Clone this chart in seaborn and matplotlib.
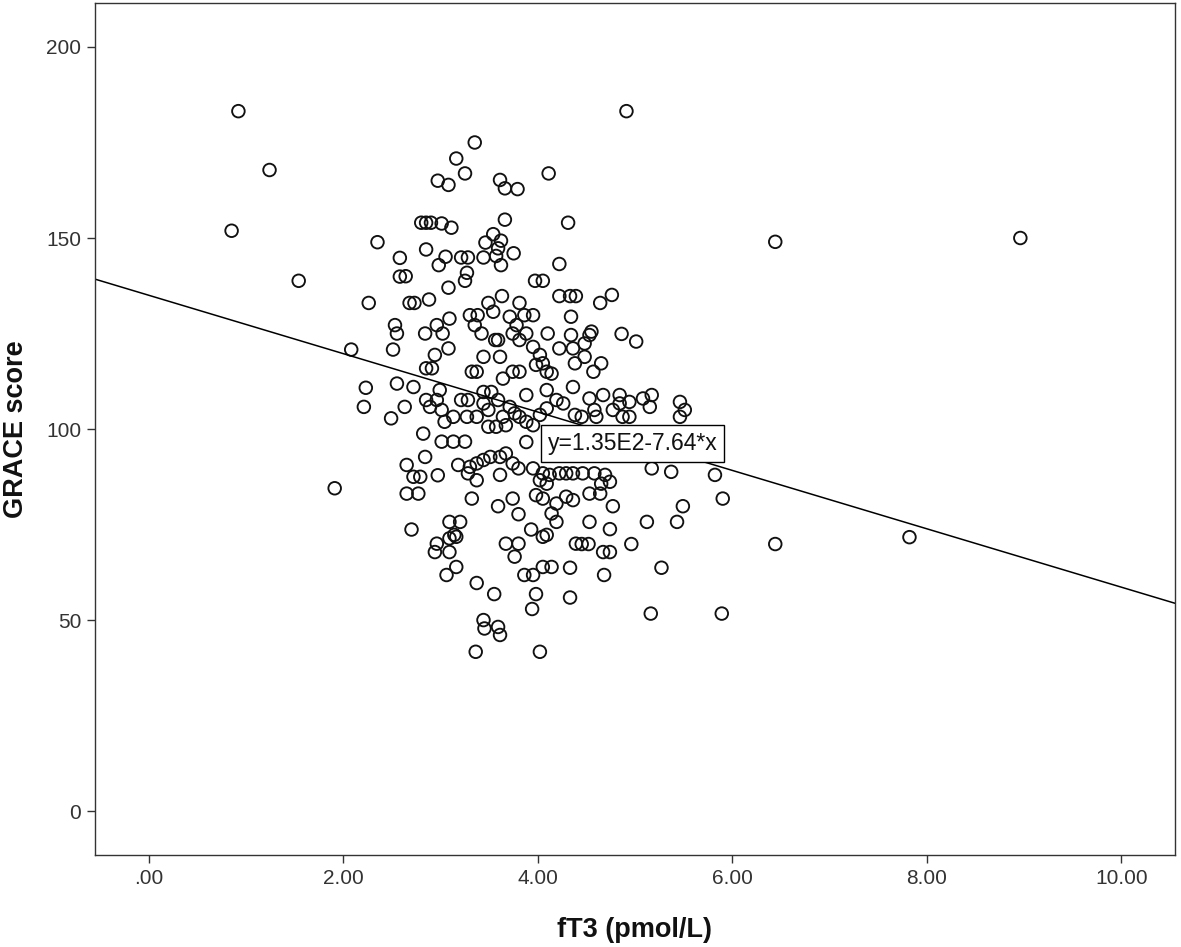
import numpy as np
import pandas as pd
import matplotlib
matplotlib.use("Agg")
import matplotlib.pyplot as plt
import seaborn as sns

# fT3 (pmol/L) values
ft3 = [
    1.24, 0.85, 2.35, 2.58, 2.58, 1.54, 2.26,
    3.35, 3.16, 3.25, 2.97, 3.08, 4.11, 3.61, 3.66, 3.79, 3.66, 4.31,
    2.80, 2.85, 2.90, 3.01, 3.11, 3.54, 3.46, 3.62, 3.59, 3.75, 2.85,
    3.05, 3.21, 3.28, 3.44, 3.57, 2.98, 3.62, 4.22, 3.27, 3.25, 2.64,
    3.97, 4.05, 3.08, 2.88, 2.68, 2.73, 3.63, 4.22, 4.33, 4.39, 3.81, 3.49,
    4.64, 4.76,
    2.53, 2.55, 2.08, 2.51, 2.55, 2.23, 2.21, 2.49, 1.91,
    2.84, 2.96, 3.02, 3.09, 3.08, 2.94, 2.85, 2.91, 3.30, 3.38, 3.54,
    3.35, 3.42, 3.56, 3.59, 3.44, 3.61, 3.32, 3.37, 3.71, 3.78, 3.74,
    3.86, 3.95, 3.81, 3.88, 4.10, 3.95, 4.02, 4.05, 4.22, 4.34, 4.34,
    4.36, 4.38, 4.09, 4.14, 3.74, 3.81, 3.98, 3.64, 2.72, 2.99, 3.21,
    3.28, 2.85, 2.96, 2.89, 3.01, 2.63, 3.13, 3.27, 3.37, 3.04, 3.44,
    3.52, 3.59, 3.44, 3.49, 3.71, 3.76, 3.81, 3.88, 3.95, 3.64, 3.67,
    3.57, 3.49, 3.88, 4.09, 4.19, 4.26, 4.36, 4.09, 4.02, 4.38, 3.88,
    2.82, 3.01, 3.13, 3.25, 2.65, 2.84, 2.72, 2.79, 2.97, 3.18, 3.30,
    3.37, 3.44, 3.51, 3.28, 3.61, 3.67, 3.74, 3.80, 3.61, 3.37, 3.95,
    4.05, 4.12, 4.22, 4.29, 4.36, 4.02, 4.09,
    4.55, 4.53, 4.48, 4.86, 5.01, 4.48, 4.65, 4.57, 4.53, 4.67, 4.84,
    4.94, 5.08, 5.17, 5.15, 4.58, 4.77, 4.84, 4.94, 4.45, 5.46, 5.51,
    5.46, 4.60, 4.87, 5.17, 5.37, 5.82, 4.46, 4.58, 4.69, 4.74, 4.65,
    2.65, 2.77, 3.32, 3.59, 3.74, 3.80, 3.98, 4.05, 4.19, 4.29, 4.36,
    4.14, 4.19, 3.93, 4.05, 4.09, 4.39, 2.70, 3.09, 3.20, 3.14, 3.16,
    3.09, 2.96, 2.94, 3.09, 3.06, 3.16, 3.67, 3.80, 3.76, 3.86, 3.95,
    4.05, 4.14, 4.33, 3.37, 3.55, 3.98, 4.33, 3.94, 3.44, 3.45, 3.59,
    3.61, 3.36, 4.02,
    4.53, 4.64, 4.77, 5.49, 5.90, 4.53, 4.74, 5.12, 5.43, 4.45, 4.52,
    4.67, 4.74, 4.96, 5.27, 4.68, 5.16, 5.89,
    0.92, 4.91, 6.44, 8.96, 6.44, 7.82,
]

# GRACE score values
grace = [
    167.8, 151.9, 148.9, 144.8, 139.9, 138.8, 133.0,
    175.0, 170.8, 166.9, 165.0, 163.9, 166.9, 165.2, 163.0, 162.8, 154.8, 154.0,
    154.0, 154.0, 154.0, 153.8, 152.7, 151.0, 148.8, 149.3, 147.3, 146.0, 147.0,
    145.1, 144.9, 144.9, 144.9, 145.3, 142.9, 142.9, 143.2, 140.9, 138.8, 140.0,
    138.8, 138.8, 137.0, 133.9, 133.0, 133.0, 134.8, 134.8, 134.8, 134.8, 133.0, 133.0,
    133.0, 135.1,
    127.2, 125.0, 120.8, 120.8, 111.9, 110.8, 105.8, 102.8, 84.5,
    125.0, 127.2, 125.0, 128.9, 121.1, 119.4, 115.9, 115.9, 129.8, 129.8, 130.7,
    127.2, 125.0, 123.3, 123.3, 118.9, 118.9, 115.0, 115.0, 129.4, 127.2, 125.0,
    129.8, 129.8, 123.3, 125.0, 125.0, 121.5, 119.4, 117.2, 121.1, 129.4, 124.6,
    121.1, 117.2, 115.0, 114.5, 115.0, 115.0, 116.8, 113.2, 111.0, 110.2, 107.6,
    107.6, 107.6, 107.6, 105.8, 105.0, 105.8, 103.2, 103.2, 103.2, 101.9, 109.7,
    109.7, 107.6, 106.7, 105.0, 105.8, 104.1, 103.2, 101.9, 101.0, 103.2, 101.0,
    100.6, 100.6, 108.9, 110.2, 107.6, 106.7, 111.0, 105.4, 103.7, 103.7, 96.6,
    98.8, 96.7, 96.7, 96.7, 90.6, 92.7, 87.5, 87.5, 87.9, 90.6, 90.1,
    91.0, 91.9, 92.7, 88.4, 92.7, 93.6, 91.0, 89.7, 88.0, 86.6, 89.7,
    88.4, 88.0, 88.4, 88.4, 88.4, 86.6, 85.7,
    125.5, 124.6, 122.4, 124.9, 122.9, 118.9, 117.2, 115.0, 108.0, 108.9, 108.9,
    107.1, 108.0, 108.9, 105.8, 105.0, 105.0, 106.7, 103.2, 103.2, 107.1, 105.0,
    103.2, 103.2, 103.2, 89.7, 88.8, 88.0, 88.4, 88.4, 88.0, 86.2, 85.7,
    83.1, 83.1, 81.8, 79.8, 81.8, 77.7, 82.7, 81.8, 80.5, 82.3, 81.4,
    77.9, 75.7, 73.7, 71.8, 72.3, 70.0, 73.7, 75.7, 75.7, 72.3, 71.8,
    71.4, 70.0, 67.8, 67.8, 61.8, 63.9, 70.0, 70.0, 66.6, 61.8, 61.8,
    63.9, 63.9, 63.7, 59.7, 56.8, 56.8, 55.9, 52.9, 50.0, 47.8, 48.2,
    46.1, 41.7, 41.7,
    83.1, 83.1, 79.8, 79.8, 81.8, 75.7, 73.8, 75.7, 75.7, 69.9, 69.9,
    67.8, 67.8, 69.9, 63.7, 61.8, 51.7, 51.7,
    183.2, 183.2, 149.0, 150.0, 69.9, 71.7,
]

# fit line reported on the chart: y = 1.35E2 - 7.64*x
intercept = 135.0
slope = -7.64
fit_label = "y=1.35E2-7.64*x"

x_ticks = [0, 2, 4, 6, 8, 10]
x_tick_labels = [".00", "2.00", "4.00", "6.00", "8.00", "10.00"]
y_ticks = [0, 50, 100, 150, 200]
y_tick_labels = ["0", "50", "100", "150", "200"]
x_label = "fT3 (pmol/L)"
y_label = "GRACE score"

df = pd.DataFrame({"fT3": ft3, "GRACE": grace})

sns.set_theme(style="white")
plt.rcParams["font.family"] = ["Liberation Sans", "DejaVu Sans"]

fig = plt.figure(figsize=(11.81, 9.47), dpi=100)
ax = fig.add_axes([0.0804, 0.0971, 0.9145, 0.8997])

xmin, xmax = -0.555, 10.55
ymin, ymax = -11.5, 211.5

sns.scatterplot(data=df, x="fT3", y="GRACE", ax=ax, s=82,
                facecolor="none", edgecolor="#111111", linewidth=1.35,
                legend=False)

line_x = np.array([xmin, xmax])
line_df = pd.DataFrame({"x": line_x, "y": intercept + slope * line_x})
sns.lineplot(data=line_df, x="x", y="y", ax=ax, color="black",
             linewidth=1.1, legend=False)

ax.set_xlim(xmin, xmax)
ax.set_ylim(ymin, ymax)
ax.set_xticks(x_ticks)
ax.set_xticklabels(x_tick_labels)
ax.set_yticks(y_ticks)
ax.set_yticklabels(y_tick_labels)
ax.tick_params(axis="both", which="major", direction="out", length=6,
               width=1, color="#333333", labelsize=15, labelcolor="#333333",
               bottom=True, left=True, pad=4)
ax.set_xlabel(x_label, fontsize=19.5, fontweight="bold", labelpad=21,
              color="#111111")
ax.set_ylabel(y_label, fontsize=19.5, fontweight="bold", labelpad=12,
              color="#111111")
for sp in ax.spines.values():
    sp.set_color("#333333")
    sp.set_linewidth(1.0)
ax.grid(False)

ax.text(4.10, 96.3, fit_label, fontsize=16.5, ha="left", va="center",
        color="#111111",
        bbox=dict(boxstyle="square,pad=0.3", facecolor="white",
                  edgecolor="black", linewidth=1.0), zorder=5)

fig.savefig("out.png", dpi=100, facecolor="white")
